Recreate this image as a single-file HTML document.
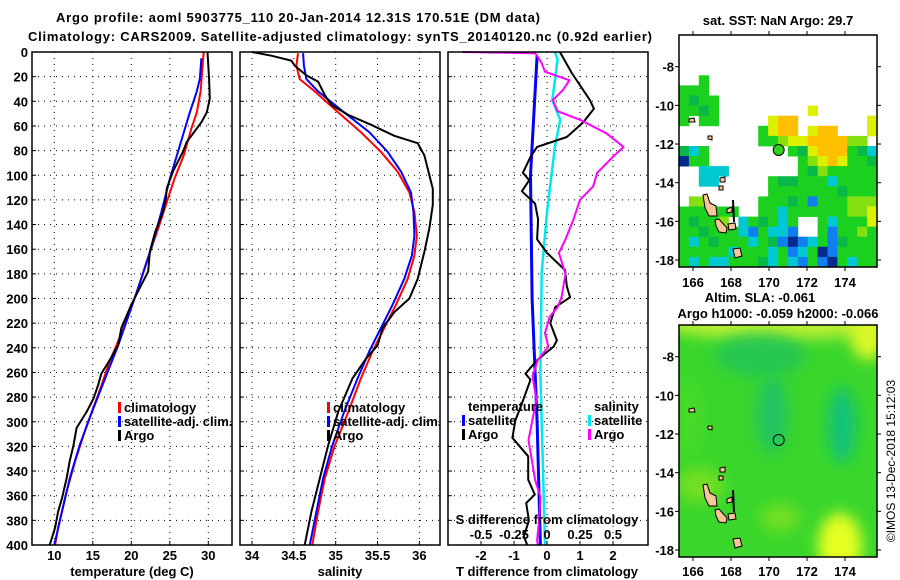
<!DOCTYPE html>
<html><head><meta charset="utf-8"><style>
html,body{margin:0;padding:0;background:#fff}
svg{display:block;font-family:"Liberation Sans",Arial,sans-serif}
text{font-weight:bold;font-size:13px;fill:#000}
</style></head><body>
<svg id="fig" width="900" height="580" viewBox="0 0 900 580" xmlns="http://www.w3.org/2000/svg">
<defs>
<filter id="blur" x="-50%" y="-50%" width="200%" height="200%"><feGaussianBlur stdDeviation="7"/></filter>
<clipPath id="clipTop"><rect x="679" y="35" width="198" height="232"/></clipPath>
<clipPath id="clipBot"><rect x="679" y="325" width="198" height="232"/></clipPath>
</defs>
<text x="298" y="22" text-anchor="middle" textLength="484" font-size="14">Argo profile: aoml 5903775_110 20-Jan-2014 12.31S 170.51E (DM data)</text>
<text x="340" y="41" text-anchor="middle" textLength="624" font-size="14">Climatology: CARS2009. Satellite-adjusted climatology: synTS_20140120.nc (0.92d earlier)</text>
<g id="plots"></g>
<g id="maps"></g>
<text transform="translate(895,461) rotate(-90)" text-anchor="middle" style="font-weight:normal;font-size:12px">©IMOS 13-Dec-2018 15:12:03</text>
</svg>
<script>
// ---------- data ----------
const depthTicks = [0,20,40,60,80,100,120,140,160,180,200,220,240,260,280,300,320,340,360,380,400];
const tempTicks = [10,15,20,25,30];
const salTicks = [34,34.5,35,35.5,36];
const tDiffTicks = [-2,-1,0,1,2];
const sDiffTicks = [-0.5,-0.25,0,0.25,0.5];
const sDiffTickLabels = ["-0.5","-0.25","0","0.25","0.5"];

const tClimD = [0,32,49,62,84,103,122,143,170,197,224,251,278,305,332,359,386,400];
const tClimV = [29.4,29.0,28.5,27.8,26.8,25.6,24.6,23.5,22.0,20.6,19.0,17.2,15.7,14.1,12.7,11.5,10.5,10.1];
const tSatD = [5,22,32,49,76,103,130,157,184,211,238,265,292,319,346,373,400];
const tSatV = [29.1,28.9,28.5,27.6,26.3,25.0,23.9,22.7,21.3,19.8,18.3,16.6,14.9,13.3,12.0,11.0,10.0];
const tArgoD = [0,22,38,49,57,73,81,97,111,119,130,146,162,178,189,205,224,238,251,261,270,281,292,305,319,332,346,362,373,386,400];
const tArgoV = [29.9,30.1,30.2,29.8,29.1,27.2,26.7,25.4,24.6,24.5,24.1,23.1,22.4,22.2,21.3,20.0,18.7,18.3,17.1,16.1,15.7,15.1,14.2,12.9,12.5,12.0,11.6,11.0,10.5,10.1,9.4];

const sClimD = [1,11,22,32,49,65,81,97,114,130,149,165,184,205,224,243,265,292,319,346,373,400];
const sClimV = [34.55,34.53,34.57,34.75,35.03,35.30,35.54,35.74,35.88,35.94,35.97,35.94,35.86,35.72,35.58,35.44,35.30,35.15,34.99,34.87,34.79,34.72];
const sSatD = [1,11,22,32,49,65,81,97,114,130,149,165,184,205,224,243,265,292,319,346,373,400];
const sSatV = [34.61,34.62,34.65,34.79,35.10,35.40,35.62,35.78,35.90,35.93,35.94,35.91,35.82,35.68,35.54,35.40,35.26,35.10,34.96,34.85,34.77,34.69];
const sArgoD = [0,3,7,11,19,24,35,43,51,59,68,74,84,103,111,124,143,162,184,200,211,224,238,249,265,292,319,346,373,400];
const sArgoV = [34.0,34.23,34.47,34.51,34.65,34.79,34.87,34.95,35.15,35.42,35.70,35.98,36.06,36.13,36.16,36.16,36.12,36.06,35.98,35.88,35.70,35.56,35.50,35.36,35.20,35.03,34.91,34.81,34.71,34.63];

const dTArgoD = [0,17,39,46,57,69,77,85,98,104,113,123,136,152,163,177,190,199,207,220,234,239,250,261,266,288,299,313,328,347,359,366,380,393,400];
const dTArgoV = [0.39,0.75,1.3,1.42,1.1,0.6,-0.3,-0.5,-0.73,-0.54,-0.76,-0.36,-0.27,-0.3,0,0.55,0.6,0.7,0.25,0.1,0.3,0.2,-0.3,-0.65,-0.5,-0.8,-0.96,-1.05,-0.57,-0.57,-0.37,-0.63,-0.55,-0.7,-0.6];
const dSArgoD = [0,1,3,9,16,23,31,39,48,55,66,77,85,98,109,120,136,152,163,180,199,207,215,228,239,250,263,282,315,347,361,380,396,400];
const dSArgoV = [-0.64,-0.09,-0.076,-0.04,-0.015,0.17,0.12,0.045,0.08,0.25,0.45,0.58,0.5,0.38,0.35,0.25,0.2,0.14,0.09,0.14,0.11,0.08,0.02,-0.015,0.01,-0.07,-0.11,-0.08,-0.14,-0.09,-0.05,-0.06,-0.075,-0.07];
const dTSatD = [3,100,200,300,400];
const dTSatV = [-0.3,-0.5,-0.45,-0.3,-0.2];
const dSSatD = [0,6,23,39,55,77,130,179,261,400];
const dSSatV = [0.06,0.08,0.06,0.04,0.1,0.06,0,-0.04,-0.05,-0.015];

const lonTicks = [166,168,170,172,174];
const latTicks = [-8,-10,-12,-14,-16,-18];
const latTickLabels = ["-8","-10","-12","-14","-16","-18"];
const floatLon = [170.51];
const floatLat = [-12.31];
const sstGrid = [
"....................","....................","....................","....................",
"..g.................","ggg.................","gGgg................","ggGg.........y......",
"g.gg.....yoo.......y","........gyoo.yoo...y","........gglyyooooll.","Gcg........gGyooogGc",
"ngg.........glyoyggG","..ccc.......gGlggggg","..cc.....gGGgggcgggg",".........gggggggGggg",
".ll.....gggGgbggglll","gggggg..ggcgggggglly","gGggl.cgGgcg..gcgggy","ggGgggcbgccb..gbgglg",
"gcgGgggcgGbnbcgbGggg","gggggcgggcgbcgnbgggg","gcgccgggGcgcbgbngcgg"];
const sstColors = {g:"#1cd020",G:"#08b848",l:"#84e010",y:"#dcf000",o:"#ffc000",c:"#00c8d0",b:"#1080f0",n:"#002a8c"};

// ---------- helpers ----------
const NS = "http://www.w3.org/2000/svg";
function mk(tag, attrs, parent){const e=document.createElementNS(NS,tag);for(const k in attrs)e.setAttribute(k,attrs[k]);parent.appendChild(e);return e;}
const plots = document.getElementById('plots');
const maps = document.getElementById('maps');
const Y0 = 52, Y1 = 545;
const yD = d => Y0 + d*(Y1-Y0)/400;
const xT = t => 54.3 + (t-10)*7.7;
const xS = s => 252 + (s-34)*83.7;
const xDT = t => 547 + t*33;
const xDS = s => 547 + s*132;
const panels = [{x0:32,x1:232,name:'temperature-panel'},{x0:240,x1:440,name:'salinity-panel'},{x0:448,x1:648,name:'difference-panel'}];

function poly(parent, xs, ds, fx, color, w, name){
  const pts = xs.map((v,i)=>fx(v).toFixed(1)+','+yD(ds[i]).toFixed(1)).join(' ');
  const p = mk('polyline',{points:pts,fill:'none',stroke:color,'stroke-width':w,'stroke-linejoin':'round'},parent);
  
  
}
function txt(parent, x, y, s, anchor, name, extra){
  const t = mk('text',Object.assign({x:x,y:y,'text-anchor':anchor||'start'},extra||{}),parent);
  t.textContent = s;
  
  
  return t;
}

// ---------- profile panels ----------
const vGrids = [tempTicks.map(xT), salTicks.map(xS), tDiffTicks.map(xDT)];
panels.forEach((p,pi)=>{
  const g = mk('g',{},plots);
  
  
  depthTicks.forEach(d=>{
    if(d>0 && d<400){
      const l = mk('line',{x1:p.x0,x2:p.x1,y1:yD(d),y2:yD(d),stroke:'#000','stroke-width':1,'stroke-dasharray':'1,5'},g);
      
      
    }
    const tk = mk('line',{x1:p.x0,x2:p.x0+4,y1:yD(d),y2:yD(d),stroke:'#000','stroke-width':1},g);
    
    
  });
  vGrids[pi].forEach(x=>{
    const l = mk('line',{x1:x,x2:x,y1:Y0,y2:Y1,stroke:'#000','stroke-width':1,'stroke-dasharray':'1,5'},g);
    
    
    const tk = mk('line',{x1:x,x2:x,y1:Y1-4,y2:Y1,stroke:'#000','stroke-width':1},g);
    
    
  });
});
depthTicks.forEach(d=>{ txt(plots, 28, yD(d)+5, String(d), 'end', 'depth-tick-label'); });

poly(plots, tClimV, tClimD, xT, '#ff0000', 2, 'temperature-climatology-line');
poly(plots, tSatV, tSatD, xT, '#0000ff', 2, 'temperature-satellite-line');
poly(plots, tArgoV, tArgoD, xT, '#000000', 2, 'temperature-argo-line');
tempTicks.forEach(t=>txt(plots, xT(t), 560, String(t), 'middle', 'temperature-tick-label'));
txt(plots, 132, 576, 'temperature (deg C)', 'middle', 'temperature-axis-title');

poly(plots, sClimV, sClimD, xS, '#ff0000', 2, 'salinity-climatology-line');
poly(plots, sSatV, sSatD, xS, '#0000ff', 2, 'salinity-satellite-line');
poly(plots, sArgoV, sArgoD, xS, '#000000', 2, 'salinity-argo-line');
salTicks.forEach(s=>txt(plots, xS(s), 560, String(s), 'middle', 'salinity-tick-label'));
txt(plots, 340, 576, 'salinity', 'middle', 'salinity-axis-title');

poly(plots, dTSatV, dTSatD, xDT, '#0000ff', 3, 'tdiff-satellite-line');
poly(plots, dSSatV, dSSatD, xDS, '#00e8f0', 2.5, 'sdiff-satellite-line');
poly(plots, dTArgoV, dTArgoD, xDT, '#000000', 2, 'tdiff-argo-line');
poly(plots, dSArgoV, dSArgoD, xDS, '#ff00ff', 2, 'sdiff-argo-line');
tDiffTicks.forEach(t=>txt(plots, xDT(t), 560, String(t), 'middle', 'tdiff-tick-label'));
txt(plots, 547, 576, 'T difference from climatology', 'middle', 'tdiff-axis-title');
sDiffTicks.forEach((s,i)=>txt(plots, xDS(s), 539, sDiffTickLabels[i], 'middle', 'sdiff-tick-label'));
txt(plots, 547, 524, 'S difference from climatology', 'middle', 'sdiff-axis-title');

function legend(x, y, items, name){
  const g = mk('g',{},plots);
  
  
  items.forEach((it,i)=>{
    if(it[1]){
      const r = mk('rect',{x:x,y:y+i*14-10,width:3,height:11,fill:it[1]},g);
      
      
    }
    txt(g, x+6, y+i*14, it[0], 'start', 'legend-entry');
  });
}
legend(118, 412, [['climatology','#ff0000'],['satellite-adj. clim.','#0000ff'],['Argo','#000000']], 'temperature-legend');
legend(327, 412, [['climatology','#ff0000'],['satellite-adj. clim.','#0000ff'],['Argo','#000000']], 'salinity-legend');
legend(462, 411, [['temperature',null],['satellite','#0000ff'],['Argo','#000000']], 'tdiff-legend');
legend(588, 411, [['salinity',null],['satellite','#00e8f0'],['Argo','#ff00ff']], 'sdiff-legend');

panels.forEach(p=>{
  const r = mk('rect',{x:p.x0,y:Y0,width:p.x1-p.x0,height:Y1-Y0,fill:'none',stroke:'#000','stroke-width':1.5},plots);
  
  
});

// ---------- maps ----------
const MX0=679, MX1=877;
const lonX = lon => 693 + (lon-166)*19;
const latYTop = lat => 66.7 + (-8-lat)*19.33;
const latYBot = lat => 356.7 + (-8-lat)*19.33;
const islands = [
 [[703,195],[707,194],[710,203],[716,206],[717,216],[709,216],[705,208]],
 [[715,220],[719,219],[727,228],[726,233],[719,232],[716,226]],
 [[728,224],[735,223],[736,229],[729,230]],
 [[733,249],[740,248],[742,256],[735,258]],
 [[689,119],[694,118],[695,122],[689,122]],
 [[708,136],[712,136],[712,140],[708,139]],
 [[720,178],[725,177],[725,182],[720,182]],
 [[719,186],[723,186],[723,190],[719,190]],
 [[727,209],[732,207],[732,212],[727,213]]
];
function drawIslands(parent, dy){
  islands.forEach(isl=>{
    const p = mk('polygon',{points:isl.map(q=>q[0]+','+(q[1]+dy)).join(' '),fill:'#f8c49a',stroke:'#000','stroke-width':1},parent);
    
    
  });
  const l = mk('line',{x1:733,y1:200+dy,x2:734,y2:222+dy,stroke:'#000','stroke-width':2},parent);
  
  
}
function mapAxes(parent, latY, y0, y1, prefix, labelY){
  const fr = mk('rect',{x:MX0,y:y0,width:MX1-MX0,height:y1-y0,fill:'none',stroke:'#000','stroke-width':1.5},parent);
  
  
  lonTicks.forEach(lon=>{
    const x=lonX(lon);
    const t1 = mk('line',{x1:x,x2:x,y1:y0-4,y2:y0,stroke:'#000'},parent);
    
    
    const t2 = mk('line',{x1:x,x2:x,y1:y1,y2:y1+4,stroke:'#000'},parent);
    
    
    txt(parent, x, labelY, String(lon), 'middle', prefix+'-lon-label', {'font-size':14});
  });
  latTicks.forEach((lat,i)=>{
    const y=latY(lat);
    const t1 = mk('line',{x1:MX0-4,x2:MX0,y1:y,y2:y,stroke:'#000'},parent);
    
    
    const t2 = mk('line',{x1:MX1,x2:MX1+4,y1:y,y2:y,stroke:'#000'},parent);
    
    
    txt(parent, 674, y+5, latTickLabels[i], 'end', prefix+'-lat-label', {'font-size':14});
  });
}

const topMap = mk('g',{'clip-path':'url(#clipTop)'},maps);


mk('rect',{x:MX0,y:35,width:198,height:232,fill:'#fff'},topMap);
const cw = 198/20, ch = 232/23;
sstGrid.forEach((row,ri)=>{
  for(let ci=0;ci<row.length;ci++){
    const c=row[ci]; if(c==='.') continue;
    const r = mk('rect',{x:(MX0+ci*cw).toFixed(1),y:(35+ri*ch).toFixed(1),width:cw+0.4,height:ch+0.4,fill:sstColors[c]},topMap);
    
    
  }
});
drawIslands(topMap, 0);
floatLon.forEach((lon,i)=>{
  const c = mk('circle',{cx:lonX(lon),cy:latYTop(floatLat[i]),r:5.5,fill:'#30d020',stroke:'#000','stroke-width':1},maps);
  
  
});
mapAxes(maps, latYTop, 35, 267, 'sst', 287);
txt(maps, 778, 25, 'sat. SST: NaN Argo: 29.7', 'middle', 'sst-map-title', {'font-size':14});

const botMap = mk('g',{'clip-path':'url(#clipBot)'},maps);


mk('rect',{x:MX0,y:325,width:198,height:232,fill:'#3ad62c'},botMap);
const blobs = [
 [778,322,120,18,'#b8f030',1],[868,335,18,25,'#d8f828',1],
 [760,355,45,22,'#24c45a',0.8],[772,415,16,38,'#1cc070',0.8],[842,425,14,38,'#10c080',0.9],
 [700,485,24,18,'#78e020',0.9],[780,518,20,14,'#78e020',0.9],
 [840,545,22,32,'#e4ff20',1],[690,420,14,40,'#50dc28',0.6]
];
blobs.forEach(b=>{
  const e = mk('ellipse',{cx:b[0],cy:b[1],rx:b[2],ry:b[3],fill:b[4],opacity:b[5],filter:'url(#blur)'},botMap);
  
  
});
drawIslands(botMap, 290);
floatLon.forEach((lon,i)=>{
  const c = mk('circle',{cx:lonX(lon),cy:latYBot(floatLat[i]),r:5.5,fill:'none',stroke:'#000','stroke-width':1},maps);
  
  
});
mapAxes(maps, latYBot, 325, 557, 'sla', 576);
txt(maps, 760, 302, 'Altim. SLA: -0.061', 'middle', 'sla-map-title', {'font-size':14});
txt(maps, 778, 318, 'Argo h1000: -0.059 h2000: -0.066', 'middle', 'sla-map-subtitle', {'font-size':14});
</script>
</body></html>
